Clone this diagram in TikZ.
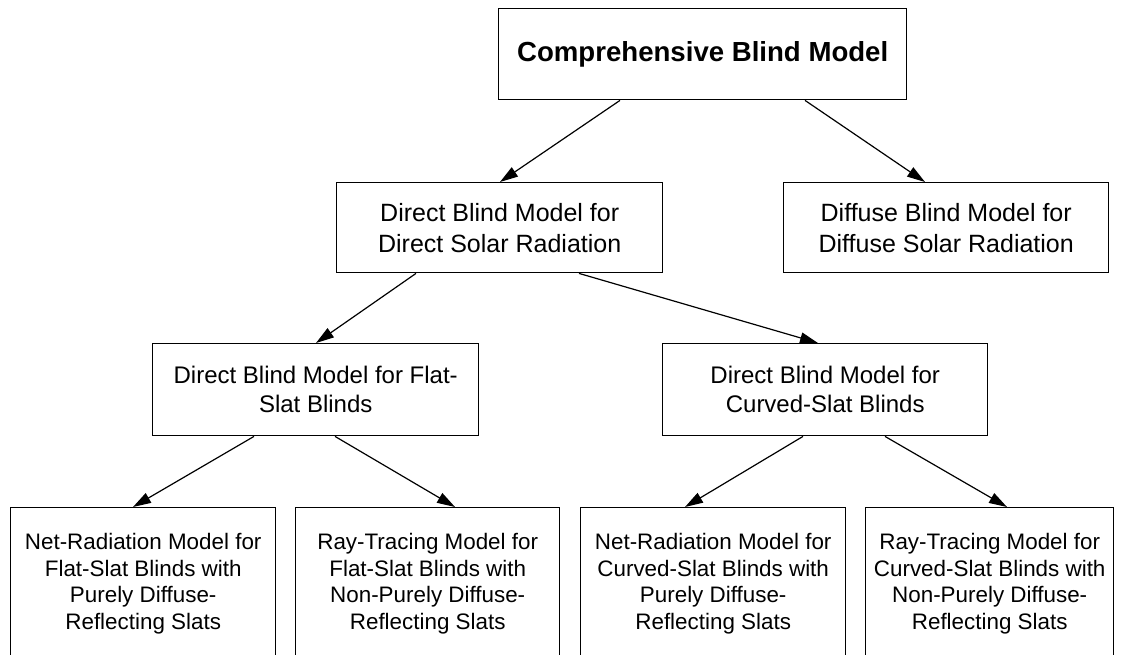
\documentclass[tikz,border=0pt]{standalone}
\usepackage{fontspec}
\setmainfont{Liberation Sans}
\usetikzlibrary{arrows.meta}
\begin{document}
\begin{tikzpicture}[x=1pt,y=-1pt,
  box/.style={draw=black,line width=1.4pt,fill=white,align=center,
              inner sep=0pt,anchor=north west},
  topfont/.style={font=\fontsize{27.6}{32}\selectfont\bfseries},
  midfont/.style={font=\fontsize{25}{31}\selectfont},
  lowfont/.style={font=\fontsize{24}{29}\selectfont},
  leaffont/.style={font=\fontsize{22.4}{26.7}\selectfont},
  arr/.style={draw=black,line width=1.2pt,-{Triangle[length=18pt,width=11pt]}}
]
\useasboundingbox (0,0) rectangle (1125,655);
\clip (0,0) rectangle (1125,655);

% root
\node[box,topfont,minimum width=408pt,minimum height=91pt] (top) at (498,8)
  {Comprehensive Blind Model};

% first level
\node[box,midfont,minimum width=326pt,minimum height=90pt] (direct) at (336,182)
  {Direct Blind Model for\\Direct Solar Radiation};
\node[box,midfont,minimum width=325pt,minimum height=90pt] (diffuse) at (783,182)
  {Diffuse Blind Model for\\Diffuse Solar Radiation};

% second level
\node[box,lowfont,minimum width=326pt,minimum height=92pt] (flat) at (152,343)
  {Direct Blind Model for Flat-\\Slat Blinds};
\node[box,lowfont,minimum width=325pt,minimum height=92pt] (curved) at (662,343)
  {Direct Blind Model for\\Curved-Slat Blinds};

% leaves (run past the lower edge)
\node[box,leaffont,minimum width=265pt,minimum height=152pt] (nrflat) at (10,507)
  {Net-Radiation Model for\\Flat-Slat Blinds with\\Purely Diffuse-\\Reflecting Slats};
\node[box,leaffont,minimum width=264pt,minimum height=152pt] (rtflat) at (295,507)
  {Ray-Tracing Model for\\Flat-Slat Blinds with\\Non-Purely Diffuse-\\Reflecting Slats};
\node[box,leaffont,minimum width=265pt,minimum height=152pt] (nrcurved) at (580,507)
  {Net-Radiation Model for\\Curved-Slat Blinds with\\Purely Diffuse-\\Reflecting Slats};
\node[box,leaffont,minimum width=248pt,minimum height=152pt] (rtcurved) at (865,507)
  {Ray-Tracing Model for\\Curved-Slat Blinds with\\Non-Purely Diffuse-\\Reflecting Slats};

% connectors
\draw[arr] ([xshift=122pt]top.south west) -- ([xshift=164pt]direct.north west);
\draw[arr] ([xshift=307pt]top.south west) -- ([xshift=142pt]diffuse.north west);
\draw[arr] ([xshift=80pt]direct.south west) -- ([xshift=164pt]flat.north west);
\draw[arr] ([xshift=243pt]direct.south west) -- ([xshift=156pt]curved.north west);
\draw[arr] ([xshift=102pt]flat.south west) -- ([xshift=123pt]nrflat.north west);
\draw[arr] ([xshift=183pt]flat.south west) -- ([xshift=160pt]rtflat.north west);
\draw[arr] ([xshift=141pt]curved.south west) -- ([xshift=105pt]nrcurved.north west);
\draw[arr] ([xshift=223pt]curved.south west) -- ([xshift=142pt]rtcurved.north west);
\end{tikzpicture}
\end{document}
